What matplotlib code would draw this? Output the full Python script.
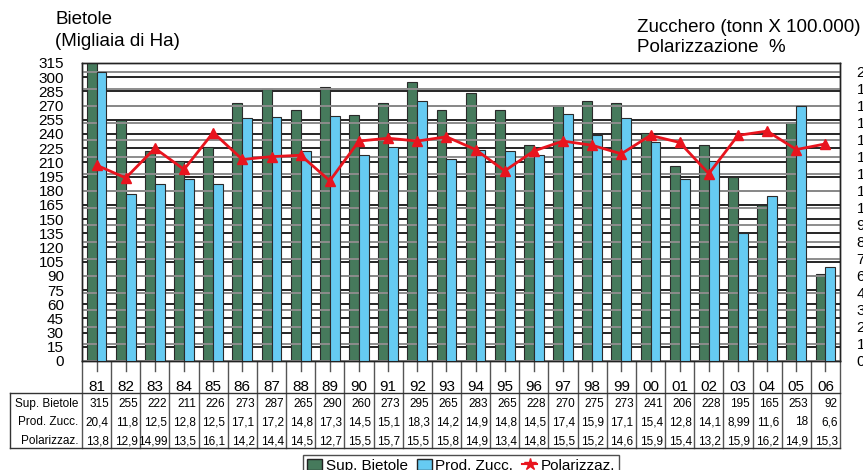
import numpy as np
import matplotlib.pyplot as plt
from matplotlib.transforms import blended_transform_factory
from matplotlib.lines import Line2D
from matplotlib.patches import Patch

plt.rcParams['font.family'] = ['Liberation Sans', 'DejaVu Sans']

# Data
anni = ['81', '82', '83', '84', '85', '86', '87', '88', '89', '90', '91', '92', '93',
        '94', '95', '96', '97', '98', '99', '00', '01', '02', '03', '04', '05', '06']
sup_bietole = [315, 255, 222, 211, 226, 273, 287, 265, 290, 260, 273, 295, 265,
               283, 265, 228, 270, 275, 273, 241, 206, 228, 195, 165, 253, 92]
prod_zucc = [20.4, 11.8, 12.5, 12.8, 12.5, 17.1, 17.2, 14.8, 17.3, 14.5, 15.1, 18.3, 14.2,
             14.9, 14.8, 14.5, 17.4, 15.9, 17.1, 15.4, 12.8, 14.1, 8.99, 11.6, 18, 6.6]
polarizz = [13.8, 12.9, 14.99, 13.5, 16.1, 14.2, 14.4, 14.5, 12.7, 15.5, 15.7, 15.5, 15.8,
            14.9, 13.4, 14.8, 15.5, 15.2, 14.6, 15.9, 15.4, 13.2, 15.9, 16.2, 14.9, 15.3]
righe = ['Sup. Bietole', 'Prod. Zucc.', 'Polarizzaz.']

verde = '#467a5c'
azzurro = '#66cbf2'
rosso = '#e8141e'

def fmt(v):
    return str(v).replace('.', ',')

fig = plt.figure(figsize=(8.63, 4.70), dpi=100)
ax = fig.add_axes([82 / 863, 109 / 470, 758 / 863, 298 / 470])
ax2 = ax.twinx()

x = np.arange(len(anni))
w = 0.34
ax.bar(x - w / 2, sup_bietole, w, color=verde, edgecolor='#2a2a2a', linewidth=0.8, zorder=3)
ax2.bar(x + w / 2, prod_zucc, w, color=azzurro, edgecolor='#2a2a2a', linewidth=0.8, zorder=3)
ax2.plot(x, polarizz, color=rosso, lw=2, marker='^', ms=7.5, zorder=4)

ax.set_xlim(-0.5, len(anni) - 0.5)
ax.set_ylim(0, 315)
ax2.set_ylim(0, 21)

# gridlines: black for the left scale, grey for the right one
lt = np.arange(0, 316, 15)
rt = np.arange(0, 18) * 1.2
ax.set_yticks(lt)
ax.set_yticklabels([str(v) for v in lt])
ax2.set_yticks(rt)
ax2.set_yticklabels([fmt(round(v, 1)).replace(',0', '') for v in rt])
for v in lt:
    ax.axhline(v, color='black', lw=1.2, zorder=1)
for v in rt:
    ax2.axhline(v, color='#8c8c8c', lw=1.4, zorder=1)
ax.set_zorder(0)
ax2.set_zorder(1)
ax.tick_params(axis='y', length=0, pad=13, labelsize=11)
ax2.tick_params(axis='y', length=0, pad=12, labelsize=11)
ax.set_xticks([])
ax2.set_xticks([])
for a in (ax, ax2):
    for s in a.spines.values():
        s.set_color('#222222')
        s.set_linewidth(1)

# titles
fig.text(55 / 863, 1 - 20 / 470, 'Bietole', fontsize=13.5, va='center', ha='left')
fig.text(55 / 863, 1 - 42 / 470, '(Migliaia di Ha)', fontsize=13.5, va='center', ha='left')
fig.text(637 / 863, 1 - 28 / 470, 'Zucchero (tonn X 100.000)', fontsize=13.5, va='center', ha='left')
fig.text(637 / 863, 1 - 47 / 470, 'Polarizzazione  %', fontsize=13.5, va='center', ha='left')

# data table under the axis
tr = blended_transform_factory(ax.transData, ax.transAxes)
y_head = -0.107
y_bot = -0.292
x_left = -0.5 - 72 / (758 / 26)
for i in range(len(anni) + 1):
    ax.plot([i - 0.5, i - 0.5], [0, y_bot], transform=tr, color='#555555', lw=1, clip_on=False)
for i, a in enumerate(anni):
    ax.plot([i, i], [0, -0.035], transform=tr, color='#555555', lw=1, clip_on=False)
    ax.text(i, -0.087, a, transform=tr, ha='center', va='center', fontsize=11)
ax.plot([x_left, len(anni) - 0.5], [y_head, y_head], transform=tr, color='#333333', lw=1, clip_on=False)
ax.plot([x_left, len(anni) - 0.5], [y_bot, y_bot], transform=tr, color='#333333', lw=1, clip_on=False)
ax.plot([x_left, x_left], [y_head, y_bot], transform=tr, color='#333333', lw=1, clip_on=False)

row_y = [-0.144, -0.206, -0.270]
valori = [[str(v) for v in sup_bietole], [fmt(v) for v in prod_zucc], [fmt(v) for v in polarizz]]
for r, nome in enumerate(righe):
    ax.text(-0.62, row_y[r], nome, transform=tr, ha='right', va='center', fontsize=8.5)
    for i, s in enumerate(valori[r]):
        ax.text(i + 0.42, row_y[r], s, transform=tr, ha='right', va='center', fontsize=8.5)

# legend
handles = [Patch(facecolor=verde, edgecolor='#222222', label='Sup. Bietole'),
           Patch(facecolor=azzurro, edgecolor='#222222', label='Prod. Zucc.'),
           Line2D([0], [0], color=rosso, lw=1.5, marker='*', ms=9, label='Polarizzaz.')]
fig.legend(handles=handles, loc='upper center', bbox_to_anchor=(461 / 863, 15 / 470), ncol=3,
           frameon=True, fancybox=False, edgecolor='#222222', fontsize=11, borderaxespad=0,
           handlelength=1.0, handletextpad=0.2, columnspacing=0.6, borderpad=0.25)

fig.savefig('out.png', dpi=100)
